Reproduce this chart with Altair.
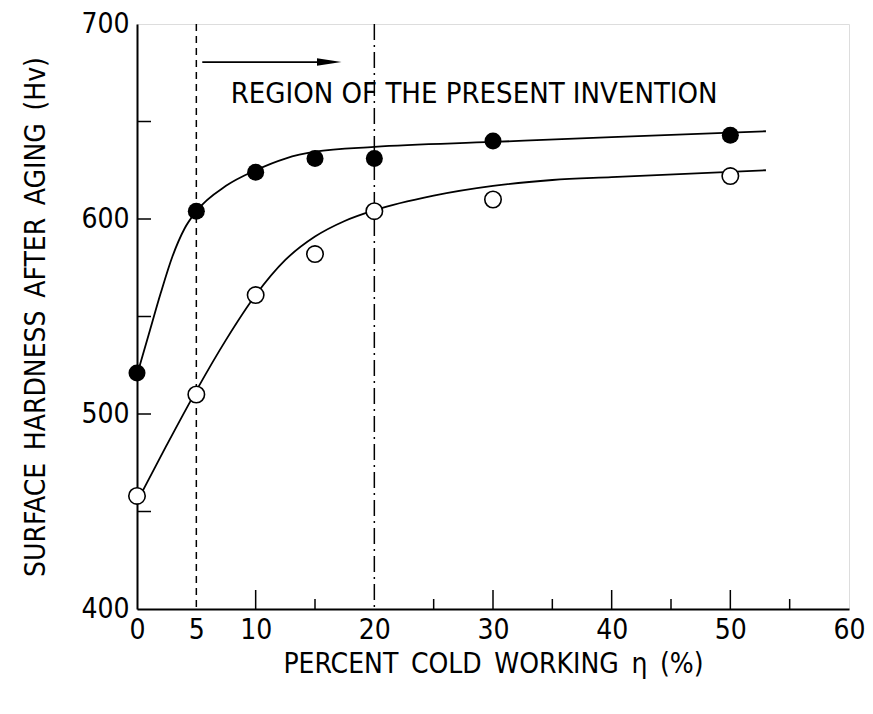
import altair as alt
import pandas as pd

FONT = "Liberation Sans Narrow, DejaVu Sans Condensed, Arial, sans-serif"
SP = "\u2002"

# measured points
x_pts = [0, 5, 10, 15, 20, 30, 50]
filled_y = [521, 604, 624, 631, 631, 640, 643]
open_y = [458, 510, 561, 582, 604, 610, 622]

# fitted curves
fill_cx = [0, 1, 2, 3, 4, 5, 7.5, 10, 12.5, 15, 20, 30, 40, 53]
fill_cy = [520, 541, 562, 581, 595, 604, 617, 625, 631, 634.5, 637, 639.5, 642, 645]
open_cx = [0, 2.5, 5, 7.5, 10, 12.5, 15, 17.5, 20, 25, 30, 35, 40, 53]
open_cy = [455, 484, 512, 538, 561, 579, 591, 599, 604.5, 612, 617, 620, 621.5, 625]

x_labels = [0, 5, 10, 20, 30, 40, 50, 60]
y_labels = [400, 500, 600, 700]
x_major_ticks = [10, 30, 40, 50]
x_minor_ticks = [15, 25, 35, 45, 55]
y_ticks = [450, 500, 550, 600, 650]

region_start, region_end = 5, 20
arrow_x0, arrow_x1, arrow_y = 5.5, 15.5, 680.5
arrow_head_x = 16.2
region_text = "REGION OF THE PRESENT INVENTION"
text_x, text_y = 7.9, 664

x_title = SP.join(["PERCENT", "COLD", "WORKING", "η", "(%)"])
y_title = SP.join(["SURFACE", "HARDNESS", "AFTER", "AGING", "(Hv)"])

W, H = 712, 585

xs = alt.Scale(domain=[0, 60], nice=False, zero=False)
ys = alt.Scale(domain=[400, 700], nice=False, zero=False)

xaxis = alt.Axis(values=x_labels, ticks=False, grid=False, labelFontSize=28, labelFont=FONT,
                 labelColor="black", labelPadding=7, domainColor="black", domainWidth=2,
                 title=x_title, titleFont=FONT, titleFontSize=28,
                 titleFontWeight="normal", titleColor="black", titlePadding=6, labelFlush=False)
yaxis = alt.Axis(values=y_labels, ticks=False, grid=False, labelFontSize=28, labelFont=FONT,
                 labelColor="black", labelPadding=8, domainColor="black", domainWidth=2,
                 title=y_title, titleFont=FONT, titleFontSize=28,
                 titleFontWeight="normal", titleColor="black", titlePadding=30, labelFlush=False)

pts = pd.DataFrame({"x": x_pts, "f": filled_y, "o": open_y})
fc = pd.DataFrame({"x": fill_cx, "y": fill_cy})
oc = pd.DataFrame({"x": open_cx, "y": open_cy})

base_axes = alt.Chart(pd.DataFrame({"x": [0], "y": [400]})).mark_point(opacity=0).encode(
    x=alt.X("x:Q", scale=xs, axis=xaxis),
    y=alt.Y("y:Q", scale=ys, axis=yaxis),
)

fill_line = alt.Chart(fc).mark_line(color="black", strokeWidth=1.8, interpolate="monotone").encode(
    x=alt.X("x:Q", scale=xs), y=alt.Y("y:Q", scale=ys))
open_line = alt.Chart(oc).mark_line(color="black", strokeWidth=1.8, interpolate="monotone").encode(
    x=alt.X("x:Q", scale=xs), y=alt.Y("y:Q", scale=ys))

vline5 = alt.Chart(pd.DataFrame({"x": [region_start]})).mark_rule(
    color="black", strokeWidth=1.5, strokeDash=[7, 5]).encode(x=alt.X("x:Q", scale=xs))
vline20 = alt.Chart(pd.DataFrame({"x": [region_end]})).mark_rule(
    color="black", strokeWidth=1.5, strokeDash=[16, 5, 2, 5]).encode(x=alt.X("x:Q", scale=xs))

filled_pts = alt.Chart(pts).mark_point(shape="circle", filled=True, color="black", size=290,
                                       opacity=1).encode(
    x=alt.X("x:Q", scale=xs), y=alt.Y("f:Q", scale=ys))
open_pts = alt.Chart(pts).mark_point(shape="circle", filled=True, fill="white", stroke="black",
                                     strokeWidth=1.6, size=270, opacity=1).encode(
    x=alt.X("x:Q", scale=xs), y=alt.Y("o:Q", scale=ys))

adf = pd.DataFrame({"x": [arrow_x0], "x2": [arrow_x1], "y": [arrow_y]})
arrow_line = alt.Chart(adf).mark_rule(color="black", strokeWidth=1.8).encode(
    x=alt.X("x:Q", scale=xs), x2="x2:Q", y=alt.Y("y:Q", scale=ys))
hdf = pd.DataFrame({"x": [arrow_head_x], "y": [arrow_y]})
arrow_head = alt.Chart(hdf).mark_point(shape="M-1,-0.3L1,0L-1,0.3Z", filled=True, color="black",
                                       size=600, opacity=1).encode(
    x=alt.X("x:Q", scale=xs), y=alt.Y("y:Q", scale=ys))

tdf = pd.DataFrame({"x": [text_x], "y": [text_y], "t": [region_text]})
text = alt.Chart(tdf).mark_text(align="left", baseline="middle", font=FONT, fontSize=29,
                                color="black").encode(
    x=alt.X("x:Q", scale=xs), y=alt.Y("y:Q", scale=ys), text="t:N")

xmaj = alt.Chart(pd.DataFrame({"x": x_major_ticks})).mark_rule(color="black", strokeWidth=1.5).encode(
    x=alt.X("x:Q", scale=xs), y=alt.value(H), y2=alt.value(H - 19))
xmin = alt.Chart(pd.DataFrame({"x": x_minor_ticks})).mark_rule(color="black", strokeWidth=1.5).encode(
    x=alt.X("x:Q", scale=xs), y=alt.value(H), y2=alt.value(H - 10))
ytk = alt.Chart(pd.DataFrame({"y": y_ticks})).mark_rule(color="black", strokeWidth=1.5).encode(
    y=alt.Y("y:Q", scale=ys), x=alt.value(0), x2=alt.value(14))

chart = alt.layer(
    base_axes, vline5, vline20, xmaj, xmin, ytk, fill_line, open_line,
    filled_pts, open_pts, arrow_line, arrow_head, text
).properties(
    width=W, height=H,
    autosize=alt.AutoSizeParams(type="none"),
    padding={"left": 129, "top": 16, "right": 16, "bottom": 90},
).configure_view(stroke="black", strokeWidth=2).configure(background="white")

chart.save("out.html", embed_options={"renderer": "svg", "actions": False})
